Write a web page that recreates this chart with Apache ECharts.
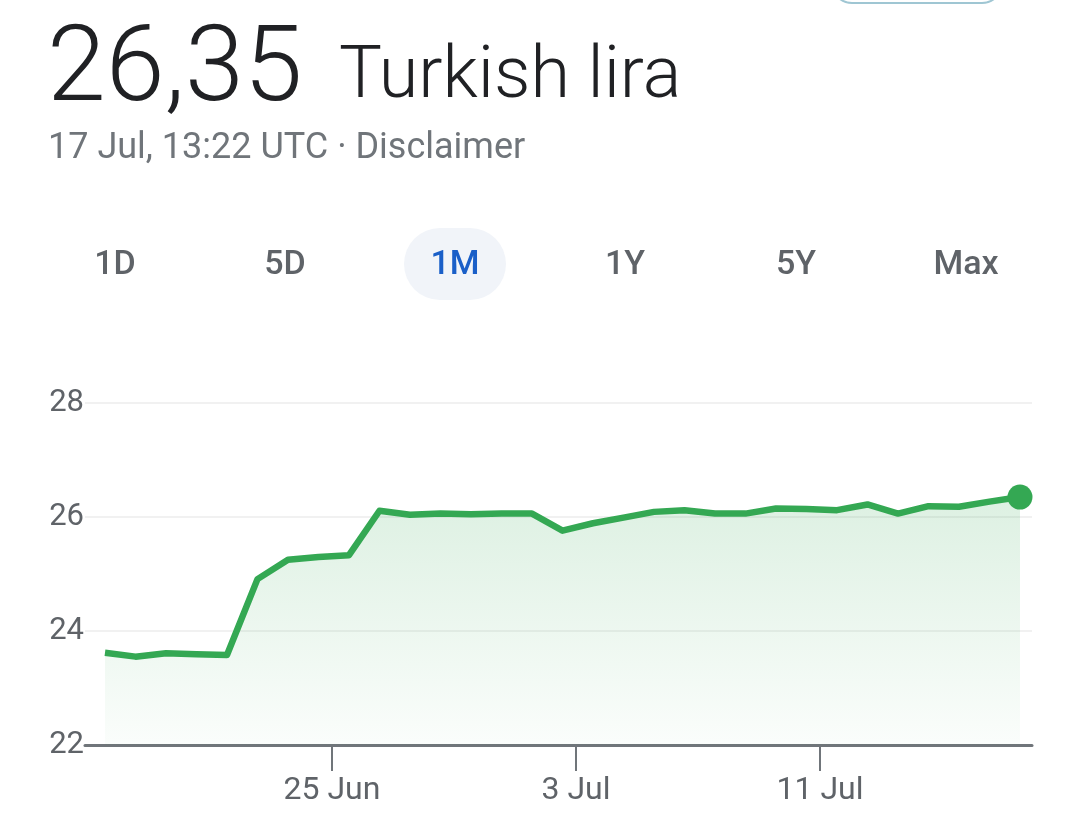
<!DOCTYPE html>
<html>
<head>
<meta charset="utf-8">
<script src="https://cdn.jsdelivr.net/npm/echarts@6/dist/echarts.min.js"></script>
<style>
html,body{margin:0;padding:0;background:#fff;}
#chart{width:1080px;height:827px;}
</style>
</head>
<body>
<div id="chart"></div>
<script>
// ---- data ----
const dates = ['2023-06-17','2023-06-18','2023-06-19','2023-06-20','2023-06-21','2023-06-22','2023-06-23','2023-06-24','2023-06-25','2023-06-26','2023-06-27','2023-06-28','2023-06-29','2023-06-30','2023-07-01','2023-07-02','2023-07-03','2023-07-04','2023-07-05','2023-07-06','2023-07-07','2023-07-08','2023-07-09','2023-07-10','2023-07-11','2023-07-12','2023-07-13','2023-07-14','2023-07-15','2023-07-16','2023-07-17'];
const values = [23.62,23.55,23.61,23.59,23.58,24.91,25.25,25.30,25.33,26.11,26.04,26.06,26.05,26.06,26.06,25.76,25.89,25.99,26.09,26.12,26.06,26.06,26.15,26.14,26.12,26.22,26.06,26.19,26.18,26.27,26.35];
const sampleTime = 'T13:22:00Z';
const xTickDates = ['2023-06-25','2023-07-03','2023-07-11'];
const yTicks = [22, 24, 26, 28];
const tabs = ['1D','5D','1M','1Y','5Y','Max'];
const activeTab = '1M';
const priceText = '26,35';
const currencyText = 'Turkish lira';
const stampText = '17 Jul, 13:22 UTC · Disclaimer';

const MONTHS = ['Jan','Feb','Mar','Apr','May','Jun','Jul','Aug','Sep','Oct','Nov','Dec'];
const DAY = 86400000;
const pts = dates.map((d, i) => [Date.parse(d + sampleTime), values[i]]);
const tickTs = xTickDates.map(d => Date.parse(d + 'T00:00:00Z'));
const xMin = tickTs[0] - 8.098 * DAY;
const xMax = tickTs[2] + 6.951 * DAY;

const chart = echarts.init(document.getElementById('chart'), null, {renderer: 'canvas'});
const tabX = [115, 285, 455, 625, 796, 966];
const FONT = 'Roboto, "Noto Sans", sans-serif';

const graphics = [
  {type: 'rect', shape: {x: 832, y: -40, width: 170, height: 43, r: 20},
   style: {fill: '#fff', stroke: '#9fc6d3', lineWidth: 2}},
  {type: 'text', left: 47, top: 20, style: {text: priceText, font: '300 106px ' + FONT, fill: '#202124'}},
  {type: 'text', left: 339, top: 43, style: {text: currencyText, font: '300 72px ' + FONT, fill: '#202124'}},
  {type: 'text', left: 48, top: 131, style: {text: stampText, font: '400 36px ' + FONT, fill: '#70757a'}},
  {type: 'rect', shape: {x: 404, y: 228, width: 102, height: 72, r: 36}, style: {fill: '#f1f4f9'}}
];
tabs.forEach((t, i) => {
  graphics.push({type: 'text', x: tabX[i], y: 265,
    style: {text: t, font: '500 34px ' + FONT, fill: t === activeTab ? '#1a5fc8' : '#5f6368',
      textAlign: 'center', textVerticalAlign: 'middle'}});
});

chart.setOption({
  animation: false,
  backgroundColor: '#fff',
  graphic: graphics,
  grid: {left: 85, right: 48, top: 403, bottom: 82, containLabel: false},
  xAxis: {
    type: 'value', min: xMin, max: xMax, scale: true,
    axisLine: {show: true, lineStyle: {color: '#70757a', width: 3}},
    axisTick: {show: true, customValues: tickTs, length: 26, lineStyle: {color: '#70757a', width: 2}},
    axisLabel: {customValues: tickTs, margin: 30, fontSize: 32, color: '#5f6368', fontFamily: FONT,
      formatter: v => { const d = new Date(v); return d.getUTCDate() + ' ' + MONTHS[d.getUTCMonth()]; }},
    splitLine: {show: false}
  },
  yAxis: {
    type: 'value', min: yTicks[0], max: yTicks[yTicks.length - 1], interval: 2,
    axisLine: {show: false}, axisTick: {show: false},
    axisLabel: {margin: 1, fontSize: 31, color: '#5f6368', fontFamily: FONT},
    splitLine: {show: true, lineStyle: {color: '#f1f1f1', width: 2}}
  },
  series: [{
    type: 'line', data: pts, showSymbol: false, symbol: 'none',
    lineStyle: {color: '#34a853', width: 6.5, join: 'round'},
    areaStyle: {origin: 'start', color: new echarts.graphic.LinearGradient(0, 0, 0, 1, [
      {offset: 0, color: 'rgba(52,168,83,0.24)'},
      {offset: 1, color: 'rgba(52,168,83,0.03)'}
    ])},
    z: 3
  }, {
    type: 'scatter', data: [pts[pts.length - 1]], symbol: 'circle', symbolSize: 25,
    itemStyle: {color: '#34a853', opacity: 1}, z: 4
  }]
});
</script>
</body>
</html>
